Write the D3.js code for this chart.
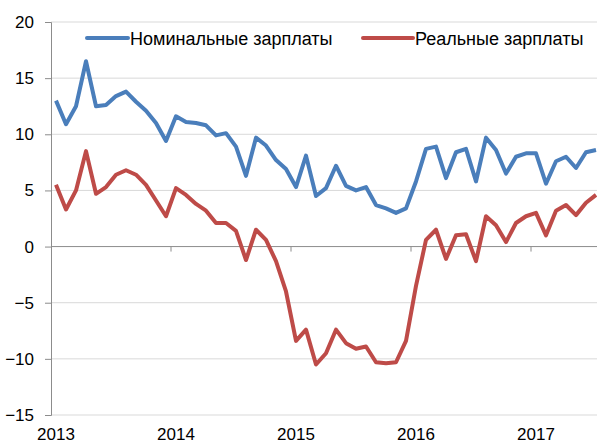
<!DOCTYPE html>
<html>
<head>
<meta charset="utf-8">
<script src="https://cdn.jsdelivr.net/npm/d3@7"></script>
<style>
  body { margin: 0; background: #fff; }
  svg text { font-family: "Liberation Sans", Arial, sans-serif; fill: #000; }
</style>
</head>
<body>
<div id="chart"></div>
<script>
// monthly, Jan 2013 .. Jul 2017
const years = ["2013", "2014", "2015", "2016", "2017"];
const nominal = [
  13.0, 10.9, 12.5, 16.5, 12.5, 12.6, 13.4, 13.8, 12.9, 12.1, 11.0, 9.4,
  11.6, 11.1, 11.0, 10.8, 9.9, 10.1, 8.9, 6.3, 9.7, 9.0, 7.7, 6.9,
  5.3, 8.1, 4.5, 5.2, 7.2, 5.4, 5.0, 5.3, 3.7, 3.4, 3.0, 3.4,
  5.8, 8.7, 8.9, 6.1, 8.4, 8.7, 5.8, 9.7, 8.6, 6.5, 8.0, 8.3,
  8.3, 5.6, 7.6, 8.0, 7.0, 8.4, 8.6
];
const real = [
  5.5, 3.3, 5.0, 8.5, 4.7, 5.3, 6.4, 6.8, 6.4, 5.5, 4.1, 2.7,
  5.2, 4.6, 3.8, 3.2, 2.1, 2.1, 1.4, -1.2, 1.5, 0.6, -1.3, -4.0,
  -8.4, -7.4, -10.5, -9.5, -7.4, -8.6, -9.1, -8.9, -10.3, -10.4, -10.3, -8.4,
  -3.5, 0.6, 1.5, -1.1, 1.0, 1.1, -1.3, 2.7, 1.9, 0.4, 2.1, 2.7,
  3.0, 1.0, 3.2, 3.7, 2.8, 3.9, 4.6
];
const yTicks = [-15, -10, -5, 0, 5, 10, 15, 20];
const seriesNames = ["Номинальные зарплаты", "Реальные зарплаты"];
const colors = ["#4a7ebb", "#be4b48"];

const W = 597, H = 444;
const plotLeft = 51, plotTop = 22, plotBottom = 415;
const months = d3.range(nominal.length);

const svg = d3.select("#chart").append("svg")
  .attr("width", W).attr("height", H);

const x = d3.scaleBand().domain(months).range([plotLeft, plotLeft + 10 * months.length]);
const y = d3.scaleLinear().domain([-15, 20]).range([plotBottom, plotTop]);

// grid lines
svg.append("g")
  .selectAll("line")
  .data(yTicks.filter((d) => d !== 0))
  .join("line")
  .attr("x1", plotLeft).attr("x2", W)
  .attr("y1", (d) => y(d)).attr("y2", (d) => y(d))
  .attr("stroke", "#d9d9d9").attr("stroke-width", 1);

// y axis
const yAxis = svg.append("g")
  .attr("transform", `translate(${plotLeft},0)`)
  .call(d3.axisLeft(y).tickValues(yTicks).tickSize(6).tickPadding(11));
yAxis.select(".domain").attr("stroke", "#8c8c8c");
yAxis.selectAll(".tick line").attr("stroke", "#8c8c8c");
yAxis.selectAll(".tick text").attr("font-size", 17).attr("fill", "#000");

// zero line with year ticks
svg.append("line")
  .attr("x1", plotLeft).attr("x2", W)
  .attr("y1", y(0)).attr("y2", y(0))
  .attr("stroke", "#8c8c8c").attr("stroke-width", 1);
svg.append("g")
  .selectAll("line")
  .data(years.slice(1))
  .join("line")
  .attr("x1", (d, i) => x((i + 1) * 12)).attr("x2", (d, i) => x((i + 1) * 12))
  .attr("y1", y(0)).attr("y2", y(0) + 5)
  .attr("stroke", "#8c8c8c");

// year labels
svg.append("g")
  .selectAll("text")
  .data(years)
  .join("text")
  .attr("x", (d, i) => x(i * 12) + x.bandwidth() / 2)
  .attr("y", 440)
  .attr("text-anchor", "middle")
  .attr("font-size", 17)
  .text((d) => d);

// lines
const line = d3.line()
  .x((d, i) => x(i) + x.bandwidth() / 2)
  .y((d) => y(d));

[nominal, real].forEach((s, k) => {
  svg.append("path")
    .datum(s)
    .attr("d", line)
    .attr("fill", "none")
    .attr("stroke", colors[k])
    .attr("stroke-width", 4)
    .attr("stroke-linejoin", "round");
});

// legend
const legendX = [87, 363];
const legend = svg.append("g")
  .selectAll("g")
  .data(seriesNames)
  .join("g")
  .attr("transform", (d, i) => `translate(${legendX[i]},38)`);
legend.append("line")
  .attr("x1", 0).attr("x2", (d, i) => (i === 0 ? 41 : 50))
  .attr("stroke", (d, i) => colors[i])
  .attr("stroke-width", 4)
  .attr("stroke-linecap", "round");
legend.append("text")
  .attr("x", (d, i) => (i === 0 ? 43 : 52))
  .attr("y", 6.5)
  .attr("font-size", 18)
  .text((d) => d);
</script>
</body>
</html>
